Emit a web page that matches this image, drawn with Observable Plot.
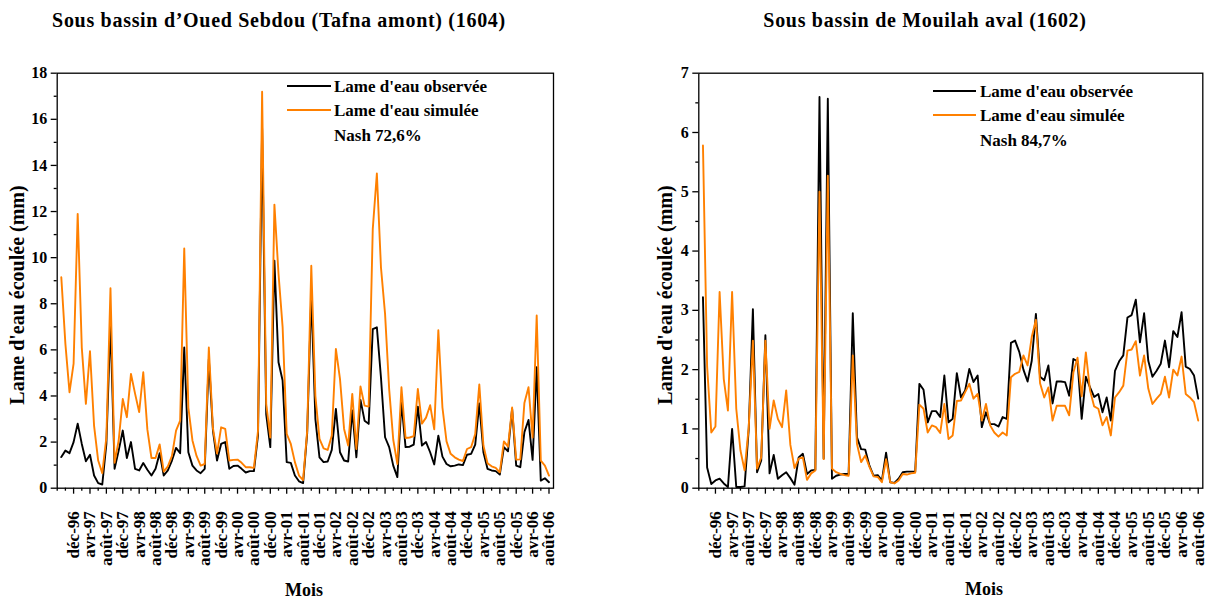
<!DOCTYPE html>
<html><head><meta charset="utf-8">
<script src="https://cdn.jsdelivr.net/npm/d3@7"></script>
<script src="https://cdn.jsdelivr.net/npm/@observablehq/plot@0.6"></script>
<style>
body{margin:0;background:#fff;}
#root{position:relative;width:1216px;height:602px;overflow:hidden;font-family:"Liberation Serif","Times New Roman",serif;font-weight:bold;color:#000;background:#fff;}
.abs{position:absolute;white-space:nowrap;line-height:1;}
.title{font-size:20px;letter-spacing:0.7px;transform:translate(-50%,-50%);}
.ylab{font-size:20px;transform:translate(-50%,-50%) rotate(-90deg);}
.xlab{font-size:18px;transform:translate(-50%,-50%);}
.leg{font-size:17px;transform:translateY(-50%);}
.sw{position:absolute;height:2px;}
</style></head><body><div id="root"></div>
<script>
// Tick labels (every 4 months, starting déc-96 = month index 3; index 0 = sept-96)
const tickLabels = ["déc-96","avr-97","août-97","déc-97","avr-98","août-98","déc-98","avr-99","août-99","déc-99","avr-00","août-00","déc-00","avr-01","août-01","déc-01","avr-02","août-02","déc-02","avr-03","août-03","déc-03","avr-04","août-04","déc-04","avr-05","août-05","déc-05","avr-06","août-06"];

// Sous bassin d'Oued Sebdou (1604) — monthly values sept-96 .. août-06
const sebdouObs = [1.35,1.63,1.52,2.0,2.8,1.92,1.17,1.45,0.55,0.22,0.16,1.92,7.2,0.84,1.63,2.5,1.31,2.0,0.84,0.77,
1.09,0.8,0.55,0.84,1.52,0.55,0.77,1.2,1.75,1.52,6.1,1.56,0.98,0.77,0.65,0.84,5.6,2.5,1.2,1.92,
2.0,0.84,0.96,0.98,0.84,0.68,0.74,0.74,2.3,15.6,3.2,1.78,9.87,5.46,4.67,1.13,1.1,0.55,0.3,0.22,
2.4,8.4,3.0,1.34,1.13,1.16,1.66,3.44,1.56,1.2,1.16,3.37,1.34,3.83,2.93,2.79,6.9,6.98,4.8,2.21,
1.78,0.98,0.48,3.73,1.78,1.8,1.89,3.54,1.85,2.0,1.56,1.03,2.28,1.37,1.05,0.95,0.98,1.03,1.0,1.45,
1.49,1.89,3.68,1.56,0.84,0.77,0.74,0.59,1.78,1.6,3.44,0.98,0.91,2.43,2.96,1.23,5.25,0.33,0.43,0.26];
const sebdouSim = [9.15,6.26,4.16,5.4,11.9,6.1,3.66,5.94,2.7,1.2,0.65,2.2,8.67,1.1,2.07,3.87,3.08,4.96,4.1,3.3,
5.03,2.55,1.31,1.31,1.9,0.72,0.95,1.4,2.5,2.93,10.4,3.5,2.07,1.4,0.98,1.05,6.1,2.6,1.5,2.64,
2.57,1.2,1.23,1.24,1.1,0.91,0.91,0.88,2.5,17.2,3.66,2.2,12.3,9.3,7.0,2.36,1.92,1.13,0.55,0.35,
2.5,9.65,4.0,2.14,1.73,1.66,2.28,6.04,4.74,2.57,1.85,4.09,1.7,4.41,3.58,3.54,11.24,13.65,9.58,7.56,
4.3,2.1,1.05,4.38,2.18,2.2,2.26,4.3,2.8,3.06,3.6,2.55,6.85,3.5,2.03,1.49,1.34,1.24,1.18,1.7,
1.78,2.35,4.5,1.85,1.08,0.95,0.88,0.69,2.03,1.8,3.5,1.24,1.25,3.7,4.38,2.2,7.49,1.2,0.98,0.55];

// Sous bassin de Mouilah aval (1602)
const mouilahObs = [3.22,0.35,0.07,0.13,0.16,0.08,0.02,1.0,0.02,0.02,0.03,1.0,3.02,0.27,0.47,2.58,0.25,0.56,0.16,0.22,
0.27,0.17,0.06,0.52,0.58,0.24,0.3,0.31,6.6,0.5,6.57,0.16,0.21,0.23,0.24,0.24,2.95,0.86,0.66,0.65,
0.38,0.21,0.22,0.13,0.6,0.1,0.09,0.16,0.27,0.28,0.28,0.28,1.76,1.66,1.11,1.3,1.3,1.2,1.9,1.11,
1.17,1.94,1.53,1.65,2.01,1.79,1.9,1.03,1.28,1.08,1.08,1.04,1.2,1.17,2.45,2.49,2.3,2.0,1.8,2.15,
2.94,1.88,1.82,2.07,1.43,1.8,1.8,1.79,1.56,2.18,2.14,1.17,1.88,1.7,1.54,1.59,1.28,1.53,1.14,1.98,
2.14,2.24,2.88,2.92,3.18,2.46,2.95,2.15,1.88,1.98,2.1,2.49,2.04,2.65,2.55,2.97,2.05,2.01,1.9,1.51];
const mouilahSim = [5.78,2.05,0.94,1.04,3.31,1.84,1.31,3.31,1.34,0.64,0.3,1.03,2.49,0.33,0.52,2.49,1.0,1.48,1.17,1.03,
1.65,0.73,0.34,0.5,0.52,0.14,0.25,0.3,5.0,0.49,5.27,0.33,0.27,0.24,0.22,0.21,2.24,0.75,0.44,0.55,
0.36,0.2,0.19,0.1,0.49,0.1,0.08,0.13,0.24,0.23,0.25,0.26,1.41,1.34,0.94,1.06,1.03,0.93,1.42,0.83,
0.89,1.47,1.48,1.62,1.76,1.51,1.59,1.14,1.42,1.06,0.94,0.87,0.94,0.89,1.87,1.93,1.96,2.24,2.07,2.55,
2.84,1.77,1.53,1.7,1.14,1.39,1.39,1.39,1.23,1.95,2.2,1.55,2.29,1.65,1.38,1.34,1.06,1.2,0.89,1.53,
1.62,1.73,2.32,2.34,2.48,1.9,2.24,1.68,1.42,1.51,1.59,1.88,1.53,2.0,1.9,2.22,1.59,1.53,1.45,1.14];

const root = document.getElementById("root");
const FONT = '"Liberation Serif","Times New Roman",serif';
const ORANGE = "#ff8000";

function panel(obs, sim, yMax, yStep, svgLeft, mLeft, mRight) {
  const data = obs.map((v, i) => ({i, obs: v, sim: sim[i]}));
  const majorX = tickLabels.map((_, k) => 3 + 4 * k);
  const minorX = d3.range(-1, 120, 2).filter(v => !majorX.includes(v));
  const majorY = d3.range(0, yMax + 1e-9, yStep);
  const minorY = d3.range(yStep / 2, yMax, yStep);
  const svg = Plot.plot({
    width: 608, height: 562,
    marginLeft: mLeft, marginRight: mRight, marginTop: 32.7, marginBottom: 114.3,
    x: {domain: [-1, 120.1]},
    y: {domain: [0, yMax]},
    style: {fontFamily: FONT, fontWeight: "bold", fontSize: "16px", color: "#000", background: "transparent", overflow: "visible"},
    marks: [
      Plot.axisY({ticks: majorY, tickSize: 6, tickPadding: 4, tickFormat: d => String(d), label: null, strokeWidth: 1.3, fontSize: 16}),
      Plot.axisY({ticks: minorY, tickSize: 3, tickFormat: () => "", label: null, strokeWidth: 1.3}),
      Plot.axisX({ticks: majorX, tickSize: 6, tickPadding: 17, tickRotate: -90,
        tickFormat: d => tickLabels[(d - 3) / 4], label: null, strokeWidth: 1.3, fontSize: 17}),
      Plot.axisX({ticks: minorX, tickSize: 3, tickFormat: () => "", label: null, strokeWidth: 1.3}),
      Plot.line(data, {x: "i", y: "obs", stroke: "#000", strokeWidth: 1.9}),
      Plot.line(data, {x: "i", y: "sim", stroke: ORANGE, strokeWidth: 1.9}),
      Plot.frame({stroke: "#000", strokeWidth: 1.3})
    ]
  });
  svg.style.position = "absolute";
  svg.style.left = svgLeft + "px";
  svg.style.top = "40px";
  root.appendChild(svg);
}

panel(sebdouObs, sebdouSim, 18, 2, 0, 56.7, 55);
panel(mouilahObs, mouilahSim, 7, 1, 608, 90.3, 13.7);

function txt(cls, s, x, y) {
  const d = document.createElement("div");
  d.className = "abs " + cls;
  d.textContent = s;
  d.style.left = x + "px"; d.style.top = y + "px";
  root.appendChild(d);
}
function sw(color, x, y, w) {
  const d = document.createElement("div");
  d.className = "sw";
  d.style.background = color;
  d.style.left = x + "px"; d.style.top = (y - 1) + "px"; d.style.width = w + "px";
  root.appendChild(d);
}

txt("title", "Sous bassin d’Oued Sebdou (Tafna amont) (1604)", 279, 20);
txt("title", "Sous bassin de Mouilah aval (1602)", 925, 20);
txt("ylab", "Lame d'eau écoulée (mm)", 17, 295);
txt("ylab", "Lame d'eau écoulée (mm)", 665, 295);
txt("xlab", "Mois", 304, 590);
txt("xlab", "Mois", 984, 589);

sw("#000", 287, 86, 44); txt("leg", "Lame d'eau observée", 334, 86);
sw(ORANGE, 287, 110, 44); txt("leg", "Lame d'eau simulée", 334, 110);
txt("leg", "Nash 72,6%", 334, 135);

sw("#000", 933, 91, 43); txt("leg", "Lame d'eau observée", 980, 91);
sw(ORANGE, 933, 115, 43); txt("leg", "Lame d'eau simulée", 980, 115);
txt("leg", "Nash 84,7%", 980, 140);
</script></body></html>
